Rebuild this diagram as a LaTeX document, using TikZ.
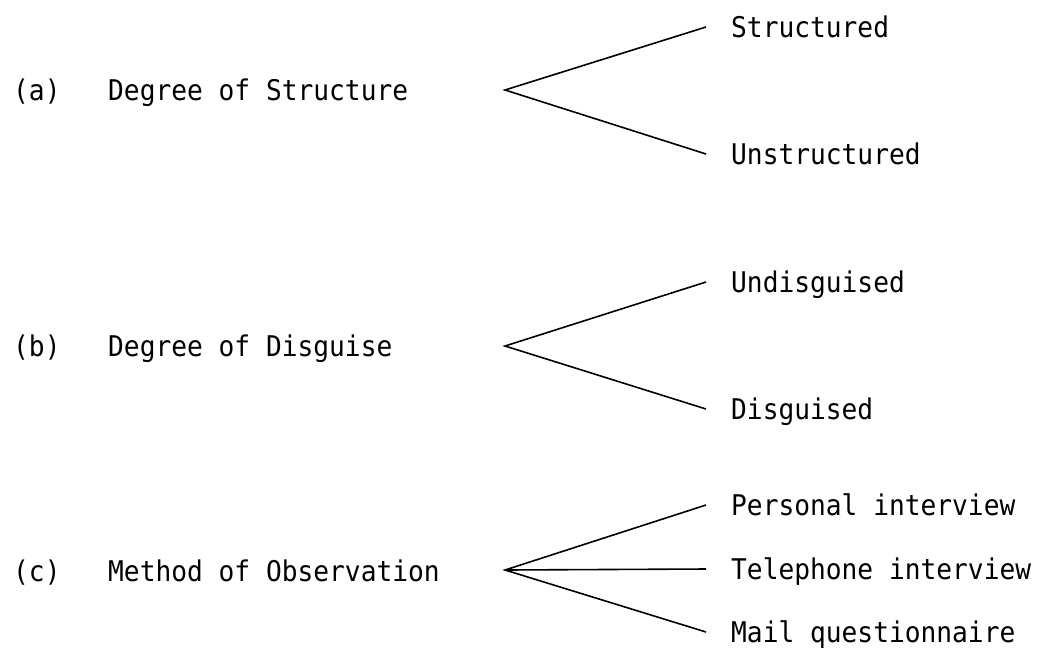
\documentclass[tikz,border=0pt]{standalone}
\usepackage{fontspec}
\setmonofont[FakeStretch=0.92]{DejaVu Sans Mono}
\tikzset{
  lbl/.style={anchor=west, inner sep=0pt, font=\ttfamily\fontsize{28.5}{32}\selectfont, text height=20.8pt, text depth=0pt},
  br/.style={line width=1.6pt, black},
}
\begin{document}
\begin{tikzpicture}[x=1pt,y=-1pt]
\useasboundingbox (0,0) rectangle (1046,649);
% (a)
\node[lbl] (la) at (13,90) {(a)};
\node[lbl] (ta) at (108,90) {Degree of Structure};
\coordinate (pa) at (505,90);
\node[lbl] (a1) at (731,27) {Structured};
\node[lbl] (a2) at (731,154) {Unstructured};
\draw[br] ([xshift=-25pt]a1.west) -- (pa) -- ([xshift=-25pt]a2.west);
% (b)
\node[lbl] (lb) at (13,346) {(b)};
\node[lbl] (tb) at (108,346) {Degree of Disguise};
\coordinate (pb) at (505,346);
\node[lbl] (b1) at (731,282) {Undisguised};
\node[lbl] (b2) at (731,409) {Disguised};
\draw[br] ([xshift=-25pt]b1.west) -- (pb) -- ([xshift=-25pt]b2.west);
% (c)
\node[lbl] (lc) at (13,571) {(c)};
\node[lbl] (tc) at (108,571) {Method of Observation};
\coordinate (pc) at (505,570);
\node[lbl] (c1) at (731,505) {Personal interview};
\node[lbl] (c2) at (731,569) {Telephone interview};
\node[lbl] (c3) at (731,632) {Mail questionnaire};
\draw[br] ([xshift=-25pt]c1.west) -- (pc) -- ([xshift=-25pt]c3.west);
\draw[br] (pc) -- ([xshift=-25pt]c2.west);
\end{tikzpicture}
\end{document}
